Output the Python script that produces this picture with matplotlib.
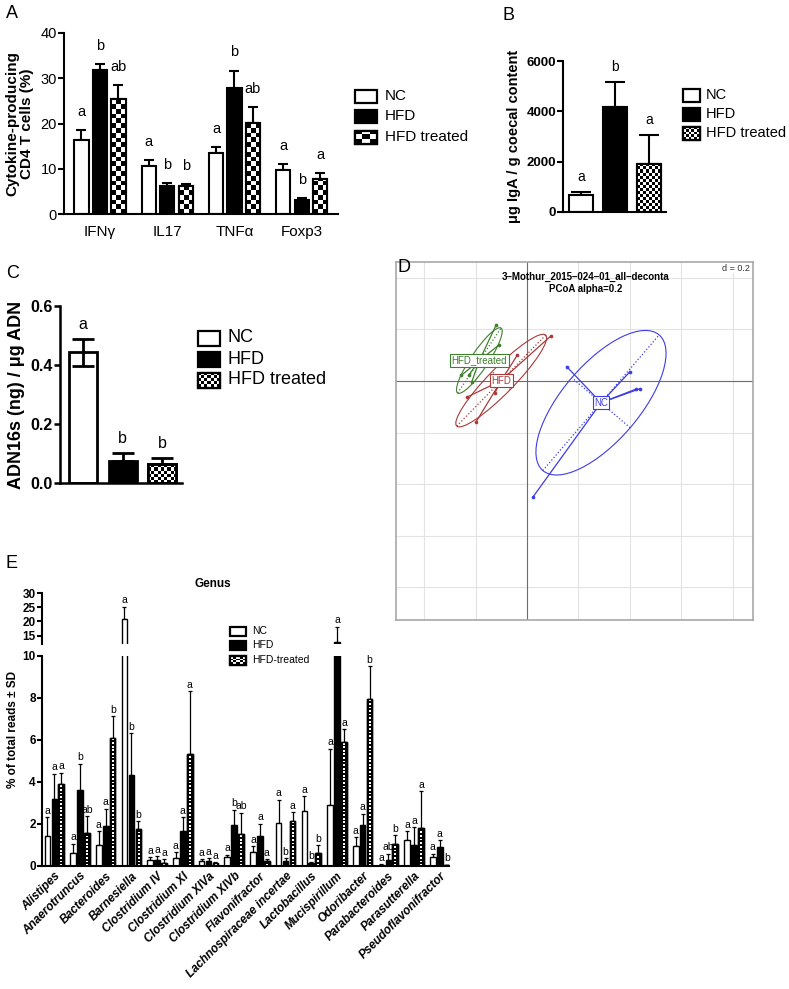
import numpy as np
import matplotlib
matplotlib.use("Agg")
import matplotlib.pyplot as plt
from matplotlib.patches import Rectangle, Ellipse

plt.rcParams['font.family'] = ['Liberation Sans', 'DejaVu Sans']

W, H = 789, 989
groups = ['NC', 'HFD', 'HFD treated']

# ---- panel A: cytokine producing CD4 T cells (%)
cyto = ['IFNγ', 'IL17', 'TNFα', 'Foxp3']
a_nc = [16.4, 10.7, 13.4, 9.8]
a_nc_err = [2.2, 1.2, 1.3, 1.3]
a_hfd = [31.8, 6.2, 27.9, 3.2]
a_hfd_err = [1.3, 0.6, 3.8, 0.3]
a_hfdt = [25.5, 6.1, 20.2, 7.7]
a_hfdt_err = [2.9, 0.5, 3.4, 1.3]
a_letters = [['a', 'b', 'ab'], ['a', 'b', 'b'], ['a', 'b', 'ab'], ['a', 'b', 'a']]

# ---- panel B: IgA
b_vals = [680, 4160, 1920]
b_err = [110, 1000, 1120]
b_letters = ['a', 'b', 'a']

# ---- panel C: ADN16s
c_vals = [0.443, 0.075, 0.064]
c_err = [0.045, 0.026, 0.021]
c_letters = ['a', 'b', 'b']

# ---- panel D: PCoA coordinates
nc_x = [0.154, 0.400, 0.422, 0.439, 0.022]
nc_y = [0.056, 0.036, -0.032, -0.030, -0.452]
hfd_x = [0.093, -0.038, -0.234, -0.124, -0.198]
hfd_y = [0.175, 0.100, -0.063, -0.045, -0.159]
hfdt_x = [-0.120, -0.109, -0.255, -0.227, -0.215]
hfdt_y = [0.217, 0.140, 0.022, 0.022, -0.004]

# ---- panel E: genus level
genera = ['Alistipes', 'Anaerotruncus', 'Bacteroides', 'Barnesiella', 'Clostridium IV',
          'Clostridium XI', 'Clostridium XIVa', 'Clostridium XIVb', 'Flavonifractor',
          'Lachnospiraceae incertae', 'Lactobacillus', 'Mucispirillum', 'Odoribacter',
          'Parabacteroides', 'Parasutterella', 'Pseudoflavonifractor']
e_nc = [1.43, 0.64, 0.98, 20.7, 0.30, 0.38, 0.24, 0.43, 0.67, 2.07, 2.60, 2.92, 0.94, 0.05, 1.22, 0.43]
e_nc_sd = [0.90, 0.43, 0.69, 4.5, 0.13, 0.29, 0.08, 0.11, 0.27, 1.09, 0.72, 2.67, 0.44, 0.03, 0.45, 0.16]
e_hfd = [3.17, 3.64, 1.90, 4.32, 0.30, 1.67, 0.24, 1.94, 1.41, 0.24, 0.14, 12.75, 1.94, 0.30, 1.02, 0.91]
e_hfd_sd = [1.23, 1.23, 0.83, 2.01, 0.18, 0.66, 0.14, 0.75, 0.61, 0.14, 0.05, 5.35, 0.55, 0.29, 0.84, 0.31]
e_hfdt = [3.89, 1.57, 6.11, 1.78, 0.16, 5.35, 0.14, 1.54, 0.24, 2.13, 0.62, 5.90, 7.97, 1.07, 1.81, 0.05]
e_hfdt_sd = [0.56, 0.81, 1.02, 0.36, 0.16, 2.98, 0.05, 1.00, 0.08, 0.44, 0.36, 0.61, 1.55, 0.39, 1.75, 0.02]
e_nc_let = ['a'] * 16
e_hfd_let = ['a', 'b', 'a', 'b', 'a', 'a', 'a', 'b', 'a', 'b', 'b', 'a', 'a', 'ab', 'a', 'a']
e_hfdt_let = ['a', 'ab', 'b', 'b', 'a', 'a', 'a', 'ab', 'a', 'a', 'b', 'a', 'b', 'b', 'a', 'b']


fig = plt.figure(figsize=(W / 100, H / 100), dpi=100)


def px_axes(x0, y0, x1, y1):
    return fig.add_axes([x0 / W, 1 - y1 / H, (x1 - x0) / W, (y1 - y0) / H])


def pattern(kind, nrows, ncols):
    if kind == 'dots':
        p = np.zeros((nrows, ncols))
        p[::2, ncols // 2] = 1
        return p
    i, j = np.indices((nrows, ncols))
    return ((i + j) % 2).astype(float)


def fill_pattern(ax, patch, kind, ncols, cell_h, zorder=2.5):
    # pattern image, kept inside both the bar and the visible y range
    x0, y0 = patch.get_x(), patch.get_y()
    w, h = patch.get_width(), patch.get_height()
    lo, hi = sorted(ax.get_ylim())
    b0, b1 = max(min(y0, y0 + h), lo), min(max(y0, y0 + h), hi)
    if b1 <= b0:
        return
    nrows = max(2, int(np.ceil((b1 - b0) / cell_h)))
    im = ax.imshow(pattern(kind, nrows, ncols), cmap='gray', vmin=0, vmax=1,
                   extent=(x0, x0 + w, b0, b0 + nrows * cell_h),
                   origin='lower', aspect='auto', interpolation='nearest', zorder=zorder)
    im.set_clip_path(Rectangle((x0, b0), w, b1 - b0, transform=ax.transData))


def style_axes(ax, lw=1.5):
    for s in ['top', 'right']:
        ax.spines[s].set_visible(False)
    for s in ['left', 'bottom']:
        ax.spines[s].set_linewidth(lw)


# overlay for panel letters and legends (pixel coordinates)
ov = fig.add_axes([0, 0, 1, 1], zorder=10)
ov.set_xlim(0, W)
ov.set_ylim(H, 0)
ov.axis('off')
ov.patch.set_visible(False)


def legend(x, y, w, h, step, fs, kind, ncols, cell, tx, labels):
    for k, lab in enumerate(labels):
        yc = y + k * step
        r = Rectangle((x, yc - h / 2), w, h, facecolor=['white', 'black', 'black'][k],
                      edgecolor='black', lw=1.6, zorder=3)
        ov.add_patch(r)
        if k == 2:
            fill_pattern(ov, r, kind, ncols, cell, zorder=3.5)
            ov.add_patch(Rectangle((x, yc - h / 2), w, h, facecolor='none',
                                   edgecolor='black', lw=1.6, zorder=4))
        ov.text(tx, yc, lab, fontsize=fs, va='center', ha='left')
    ov.set_xlim(0, W)
    ov.set_ylim(H, 0)


for lab, (x, y) in zip('ABCDE', [(6, 14), (503, 15), (6, 274), (398, 268), (6, 564)]):
    ov.text(x, y, lab, fontsize=13, va='center', ha='left')

# ================= A =================
ax = px_axes(64, 33, 338, 214)
ax.set_xlim(-0.535, 3.54)
ax.set_ylim(0, 40)
xg = np.arange(len(cyto))
offs = [-0.275, 0, 0.275]
wa = 0.21
sets = [(a_nc, a_nc_err, 'white'), (a_hfd, a_hfd_err, 'black'), (a_hfdt, a_hfdt_err, 'black')]
for k, (v, e, c) in enumerate(sets):
    bars = ax.bar(xg + offs[k], v, wa, color=c, edgecolor='black', lw=1.5, zorder=2)
    if k == 2:
        for b in bars:
            fill_pattern(ax, b, 'check', 3, 1.05)
        ax.bar(xg + offs[k], v, wa, color='none', edgecolor='black', lw=1.5, zorder=3)
    ax.errorbar(xg + offs[k], v, yerr=[np.zeros(len(v)), e], fmt='none', ecolor='black',
                elinewidth=1.5, capsize=3.5, capthick=1.5, zorder=1)
    for i in range(len(v)):
        ax.annotate(a_letters[i][k], (xg[i] + offs[k], v[i] + e[i]), xytext=(0, 8),
                    textcoords='offset points', ha='center', va='bottom', fontsize=10.5)
ax.set_xlim(-0.535, 3.54)
ax.set_ylim(0, 40)
ax.set_yticks([0, 10, 20, 30, 40])
ax.set_xticks(xg)
ax.set_xticklabels(cyto)
style_axes(ax)
ax.tick_params(axis='y', length=4, width=1.5, labelsize=10.5, pad=1)
ax.tick_params(axis='x', length=0, labelsize=11, pad=8)
ax.set_ylabel('Cytokine-producing\nCD4 T cells (%)', fontsize=11, fontweight='bold',
              labelpad=5, linespacing=1.0)
legend(355, 96, 22, 13, 20.5, 11, 'check', 3, 4.4, 385, groups)

# ================= B =================
ax = px_axes(563, 61, 666, 212)
ax.set_xlim(-0.53, 2.5)
ax.set_ylim(0, 6000)
xb = np.arange(3)
bars = ax.bar(xb, b_vals, 0.7, color=['white', 'black', 'black'], edgecolor='black', lw=1.5, zorder=2)
fill_pattern(ax, bars[2], 'check', 8, 119)
ax.bar(xb[2], b_vals[2], 0.7, color='none', edgecolor='black', lw=1.5, zorder=3)
ax.errorbar(xb, b_vals, yerr=[np.zeros(3), b_err], fmt='none', ecolor='black',
            elinewidth=1.5, capsize=7, capthick=1.5, zorder=1)
for i in range(3):
    ax.annotate(b_letters[i], (xb[i], b_vals[i] + b_err[i]), xytext=(0, 6),
                textcoords='offset points', ha='center', va='bottom', fontsize=10)
ax.set_xlim(-0.53, 2.5)
ax.set_ylim(0, 6000)
ax.set_yticks([0, 2000, 4000, 6000])
ax.set_xticks([])
style_axes(ax)
ax.tick_params(axis='y', length=4, width=1.5, labelsize=9.5, pad=1)
for t in ax.get_yticklabels():
    t.set_fontweight('bold')
ax.set_ylabel('μg IgA / g coecal content', fontsize=10.5, fontweight='bold', labelpad=4)
legend(683, 95, 17, 13, 19, 10.5, 'check', 6, 2.8, 706, groups)

# ================= C =================
ax = px_axes(60, 306, 182, 483)
ax.set_xlim(-0.58, 2.5)
ax.set_ylim(0, 0.6)
xc = np.arange(3)
bars = ax.bar(xc, c_vals, 0.71, color=['white', 'black', 'black'], edgecolor='black', lw=2, zorder=2)
fill_pattern(ax, bars[2], 'check', 9, 0.0105)
ax.bar(xc[2], c_vals[2], 0.71, color='none', edgecolor='black', lw=2, zorder=3)
lower = [c_err[0], 0, 0]
ax.errorbar(xc, c_vals, yerr=[lower, c_err], fmt='none', ecolor='black',
            elinewidth=2, capsize=8, capthick=2, zorder=4)
for i in range(3):
    ax.annotate(c_letters[i], (xc[i], c_vals[i] + c_err[i]), xytext=(0, 5),
                textcoords='offset points', ha='center', va='bottom', fontsize=11.5)
ax.set_xlim(-0.58, 2.5)
ax.set_ylim(0, 0.6)
ax.set_yticks([0, 0.2, 0.4, 0.6])
ax.set_yticklabels(['0.0', '0.2', '0.4', '0.6'], fontweight='bold')
ax.set_xticks([])
style_axes(ax, 1.8)
ax.tick_params(axis='y', length=4, width=1.8, labelsize=11.5, pad=1)
ax.set_ylabel('ADN16s (ng) / μg ADN', fontsize=13, fontweight='bold', labelpad=4)
legend(198, 338, 22, 15, 21, 13, 'check', 7, 3.1, 228, groups)

# ================= E =================
ax_up = px_axes(42, 593, 449, 644)
ax_lo = px_axes(42, 656, 449, 866)
for axe in (ax_up, ax_lo):
    axe.patch.set_visible(False)
    axe.set_xlim(-0.48, 15.36)
ax_up.set_ylim(12, 30)
ax_lo.set_ylim(0, 10)
xe = np.arange(len(genera))
eo = [-0.27, 0, 0.27]
we = 0.22
eset = [(e_nc, e_nc_sd, 'white', e_nc_let), (e_hfd, e_hfd_sd, 'black', e_hfd_let),
        (e_hfdt, e_hfdt_sd, 'black', e_hfdt_let)]
for axe in (ax_up, ax_lo):
    for k, (v, sd, c, lets) in enumerate(eset):
        bars = axe.bar(xe + eo[k], v, we, color=c, edgecolor='black', lw=1.0, zorder=2)
        if k == 2:
            cell = 0.085 if axe is ax_lo else 0.6
            for b in bars:
                fill_pattern(axe, b, 'dots', 3, cell)
            axe.bar(xe + eo[k], v, we, color='none', edgecolor='black', lw=1.0, zorder=3)
        axe.errorbar(xe + eo[k], v, yerr=[np.zeros(len(v)), sd], fmt='none', ecolor='black',
                     elinewidth=0.9, capsize=1.6, capthick=0.9, zorder=1)
for k, (v, sd, c, lets) in enumerate(eset):
    for i in range(len(v)):
        top = v[i] + sd[i]
        axe = ax_up if top > 10 else ax_lo
        axe.annotate(lets[i], (xe[i] + eo[k], top), xytext=(0, 1),
                     textcoords='offset points', ha='center', va='bottom', fontsize=7.5,
                     annotation_clip=False)
for axe in (ax_up, ax_lo):
    axe.set_xlim(-0.48, 15.36)
    style_axes(axe, 1.5)
    axe.tick_params(axis='y', length=3.5, width=1.5, labelsize=8.5, pad=1)
ax_up.set_ylim(12, 30)
ax_up.set_yticks([15, 20, 25, 30])
ax_up.spines['bottom'].set_visible(False)
ax_up.set_xticks([])
ax_lo.set_ylim(0, 10)
ax_lo.set_yticks([0, 2, 4, 6, 8, 10])
ax_lo.set_xticks(xe)
ax_lo.set_xticklabels(genera, rotation=45, ha='right', rotation_mode='anchor',
                      fontsize=8.5, fontweight='bold', fontstyle='italic')
ax_lo.tick_params(axis='x', length=0, pad=3)
for axe in (ax_up, ax_lo):
    for t in axe.get_yticklabels():
        t.set_fontweight('bold')
ax_up.set_title('Genus', fontsize=8.5, fontweight='bold', pad=4, x=0.42)
ov.text(13, 730, '% of total reads ± SD', rotation=90, ha='center', va='center',
        fontsize=8.5, fontweight='bold')
legend(230, 631, 16, 9, 14.5, 7.5, 'check', 5, 1.8, 252, ['NC', 'HFD', 'HFD-treated'])

# ================= D =================
ax = px_axes(396, 262, 753, 620)
ax.set_zorder(5)
ax.set_xlim(-0.509, 0.878)
ax.set_ylim(-0.928, 0.462)
for g in np.arange(-0.4, 0.81, 0.2):
    ax.axvline(g, color='#e3e3e3', lw=0.8, zorder=0)
for g in np.arange(-0.8, 0.41, 0.2):
    ax.axhline(g, color='#e3e3e3', lw=0.8, zorder=0)
ax.axvline(0, color='#6e6e6e', lw=0.8, zorder=0.5)
ax.axhline(0, color='#6e6e6e', lw=0.8, zorder=0.5)
ax.set_xticks([])
ax.set_yticks([])
for s in ax.spines.values():
    s.set_color('#a8a8a8')
    s.set_linewidth(1.2)
pcoa = [('NC', nc_x, nc_y, '#3c3ce6'), ('HFD', hfd_x, hfd_y, '#a83a3a'),
        ('HFD_treated', hfdt_x, hfdt_y, '#3f7f2e')]
for name, xs, ys, col in pcoa:
    xs, ys = np.array(xs), np.array(ys)
    mx, my = xs.mean(), ys.mean()
    for px_, py_ in zip(xs, ys):
        ax.plot([mx, px_], [my, py_], color=col, lw=0.9, zorder=2)
    ax.scatter(xs, ys, s=7, color=col, zorder=3, linewidths=0)
    vals, vecs = np.linalg.eigh(np.cov(xs, ys, bias=True))
    semi = 1.5 * np.sqrt(vals)
    ang = np.degrees(np.arctan2(vecs[1, 1], vecs[0, 1]))
    ax.add_patch(Ellipse((mx, my), 2 * semi[1], 2 * semi[0], angle=ang, fill=False,
                         ec=col, lw=0.8, zorder=2))
    for k in range(2):
        v = vecs[:, k] * semi[k]
        ax.plot([mx - v[0], mx + v[0]], [my - v[1], my + v[1]], ls=':', color=col, lw=0.9, zorder=2)
    ax.text(mx, my, name, color=col, fontsize=7, ha='center', va='center', zorder=5,
            bbox=dict(boxstyle='square,pad=0.15', fc='white', ec=col, lw=0.8))
ax.text(0.53, 0.958, '3–Mothur_2015–024–01_all–deconta', transform=ax.transAxes,
        ha='center', va='center', fontsize=7, fontweight='bold')
ax.text(0.53, 0.925, 'PCoA alpha=0.2', transform=ax.transAxes,
        ha='center', va='center', fontsize=7, fontweight='bold')
ax.text(0.992, 0.983, 'd = 0.2', transform=ax.transAxes, ha='right', va='center',
        fontsize=6.5, color='#333333', bbox=dict(fc='white', ec='none', pad=0.5))

fig.savefig('out.png', dpi=100)
